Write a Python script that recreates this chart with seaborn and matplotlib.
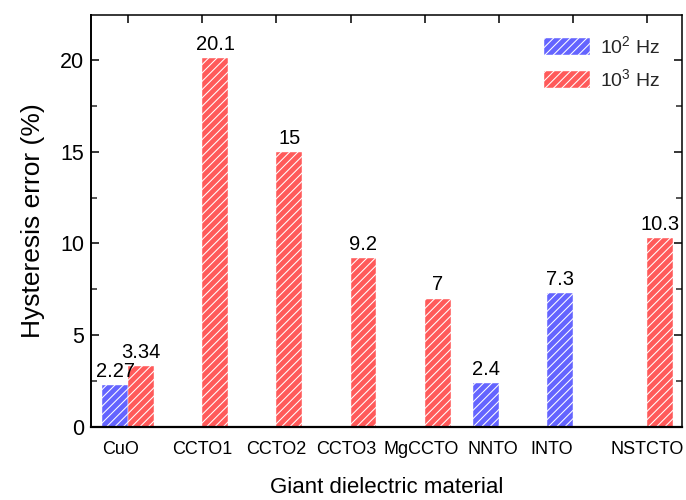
import matplotlib
matplotlib.use("Agg")
import matplotlib.pyplot as plt
import matplotlib.transforms as mtransforms
from matplotlib.patches import Patch
from matplotlib.ticker import MultipleLocator
import pandas as pd
import seaborn as sns

# Hysteresis error of giant dielectric materials at two frequencies
materials = ["CuO", "CCTO1", "CCTO2", "CCTO3", "MgCCTO", "NNTO", "INTO", "NSTCTO"]
freq_levels = ["1e2", "1e3"]
freq_labels = [r"$\mathregular{10^2}$ Hz", r"$\mathregular{10^3}$ Hz"]

low_freq_materials = ["CuO", "NNTO", "INTO"]
low_freq_values = [2.27, 2.4, 7.3]
high_freq_materials = ["CuO", "CCTO1", "CCTO2", "CCTO3", "MgCCTO", "NSTCTO"]
high_freq_values = [3.34, 20.1, 15, 9.2, 7, 10.3]

bar_colors = {"1e2": "#6464FF", "1e3": "#FF5A5A"}

df = pd.concat([
    pd.DataFrame({"material": low_freq_materials, "error": low_freq_values, "freq": "1e2"}),
    pd.DataFrame({"material": high_freq_materials, "error": high_freq_values, "freq": "1e3"}),
], ignore_index=True)

sns.set_theme(style="white")
plt.rcParams["font.family"] = ["Liberation Sans", "DejaVu Sans"]
plt.rcParams["mathtext.fontset"] = "custom"
plt.rcParams["mathtext.rm"] = "Liberation Sans"
plt.rcParams["hatch.linewidth"] = 0.75

fig = plt.figure(figsize=(6.86, 5.0), dpi=100)
ax = fig.add_axes([0.1327, 0.146, 0.994 - 0.1327, 0.97 - 0.146])

sns.barplot(data=df, x="material", y="error", hue="freq", order=materials,
            hue_order=freq_levels, palette=bar_colors, width=0.7, dodge=True,
            saturation=1, errorbar=None, legend=False, ax=ax,
            edgecolor="white", linewidth=0.3)

for container in ax.containers:
    for bar in container:
        bar.set_hatch("////")
    ax.bar_label(container, fmt="%g", padding=3, fontsize=14.5, color="black")

ax.set_xlim(-0.5, 7.47)
ax.set_ylim(0, 22.45)
ax.yaxis.set_major_locator(MultipleLocator(5))
ax.yaxis.set_minor_locator(MultipleLocator(2.5))

ax.tick_params(axis="y", which="major", direction="in", length=6, width=1.1,
               left=True, right=True, labelsize=15.5, pad=5, colors="black")
ax.tick_params(axis="y", which="minor", direction="in", length=4, width=1.1,
               left=True, right=True)
ax.tick_params(axis="x", which="major", direction="in", length=6, width=1.1,
               bottom=False, top=True, labelsize=13, pad=10, colors="black")

# nudge a few category names to sit where they were typeset
label_shift = {"CuO": -8, "CCTO3": -4, "MgCCTO": -3, "NNTO": -6, "INTO": -21}
for lbl in ax.get_xticklabels():
    dx = label_shift.get(lbl.get_text(), 0)
    if dx:
        lbl.set_transform(lbl.get_transform() +
                          mtransforms.ScaledTranslation(dx / 100, 0, fig.dpi_scale_trans))

for spine in ax.spines.values():
    spine.set_visible(True)
    spine.set_color("black")
    spine.set_linewidth(1.1)
ax.spines["bottom"].set_linewidth(1.6)
ax.spines["left"].set_linewidth(1.4)

ax.set_xlabel("Giant dielectric material", fontsize=16, labelpad=14, color="black")
ax.set_ylabel("Hysteresis error (%)", fontsize=19, labelpad=11, color="black")

handles = [Patch(facecolor=bar_colors[f], edgecolor="white", linewidth=0.3, hatch="////")
           for f in freq_levels]
ax.legend(handles, freq_labels, loc="upper left", bbox_to_anchor=(0.766, 0.95),
          borderaxespad=0, borderpad=0, frameon=False, fontsize=14,
          handlelength=2.4, handleheight=0.95, handletextpad=0.5, labelspacing=0.55)

fig.savefig("out.png", dpi=100)
